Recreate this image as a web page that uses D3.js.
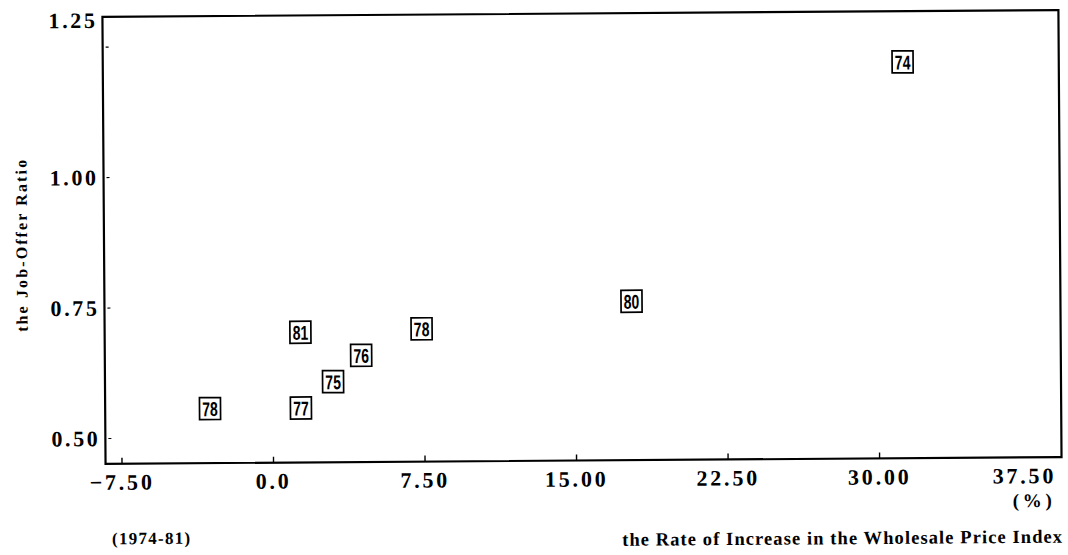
<!DOCTYPE html>
<html>
<head>
<meta charset="utf-8">
<script src="https://cdn.jsdelivr.net/npm/d3@7"></script>
<style>
  html, body { margin: 0; padding: 0; background: #fff; }
  svg { display: block; }
</style>
</head>
<body>
<script>
// Year labels and coordinates of each observation (1974-81)
const years    = ["74", "80", "81", "78", "76", "75", "78", "77"];
const wpiRate  = [31.3, 17.8, 1.4, 7.4, 4.4, 3.0, -3.1, 1.4];          // % change, wholesale price index
const jobOffer = [1.21, 0.755, 0.70, 0.705, 0.655, 0.605, 0.555, 0.555]; // job-offer ratio

const xTicks      = [-7.5, 0, 7.5, 15, 22.5, 30, 37.5];
const xTickLabels = ["\u22127.50", "0.0", "7.50", "15.00", "22.50", "30.00", "37.50"];
const yTicks      = [0.5, 0.75, 1.0, 1.25];
const yTickLabels = ["0.50", "0.75", "1.00", "1.25"];

const W = 1068, H = 555;
const serif = "'Liberation Serif', 'DejaVu Serif', serif";

const svg = d3.select("body").append("svg").attr("width", W).attr("height", H);
svg.append("rect").attr("width", W).attr("height", H).attr("fill", "#fff");

// the whole plate sits at a slight tilt
const g = svg.append("g").attr("transform", "rotate(-0.4,580,240)");

const x = d3.scaleLinear().domain([-8.29, 39.03]).range([104, 1060]);
const y = d3.scaleLinear().domain([0.4506, 1.307]).range([460.5, 13.5]);

// plot frame
g.append("rect")
  .attr("x", x.range()[0]).attr("y", y.range()[1])
  .attr("width", x.range()[1] - x.range()[0])
  .attr("height", y.range()[0] - y.range()[1])
  .attr("fill", "none").attr("stroke", "#000").attr("stroke-width", 2.2);

// x axis: short inward ticks, labels below
const xAxis = d3.axisBottom(x)
  .tickValues(xTicks).tickSizeInner(-6).tickSizeOuter(0)
  .tickFormat((d, i) => xTickLabels[i]);
const gx = g.append("g").attr("transform", `translate(0,${y.range()[0]})`).call(xAxis);
gx.select(".domain").remove();
gx.selectAll(".tick line")
  .attr("stroke", "#000").attr("stroke-width", 1.4)
  .attr("display", d => d === xTicks[xTicks.length - 1] ? "none" : null);
gx.selectAll(".tick text")
  .attr("fill", "#000")
  .attr("font-family", serif).attr("font-size", 22).attr("font-weight", "bold")
  .attr("letter-spacing", "2.8px")
  .attr("y", 26).attr("dy", 0)
  .each(function (d) {
    const len = this.getComputedTextLength();
    const over = x(d) + len / 2 - (x.range()[1] - 6);
    if (over > 0) d3.select(this).attr("x", -over);
  });

// y axis: small dashes just inside the frame; the top label sits at the frame corner
const yTop = yTicks[yTicks.length - 1];
const yAxis = d3.axisLeft(y)
  .tickValues(yTicks).tickSizeInner(-3).tickSizeOuter(0).tickPadding(9)
  .tickFormat((d, i) => yTickLabels[i]);
const gy = g.append("g").attr("transform", `translate(${x.range()[0] + 3},0)`).call(yAxis);
gy.select(".domain").remove();
gy.selectAll(".tick line").attr("stroke", "#000").attr("stroke-width", 1.2);
gy.selectAll(".tick text")
  .attr("fill", "#000")
  .attr("font-family", serif).attr("font-size", 22).attr("font-weight", "bold")
  .attr("letter-spacing", "2.6px")
  .attr("x", -8)
  .attr("dy", "0.34em")
  .attr("y", d => d === yTop ? (y.range()[1] + 3) - y(d) : 0);

// axis titles and notes
g.append("text")
  .attr("transform", "translate(27,242) rotate(-90)")
  .attr("text-anchor", "middle")
  .attr("font-family", serif).attr("font-size", 16).attr("font-weight", "bold")
  .attr("textLength", 172).attr("lengthAdjust", "spacing")
  .text("the Job-Offer Ratio");

g.append("text")
  .attr("x", 620).attr("y", 546)
  .attr("font-family", serif).attr("font-size", 18.5).attr("font-weight", "bold")
  .attr("textLength", 440).attr("lengthAdjust", "spacing")
  .text("the Rate of Increase in the Wholesale Price Index");

g.append("text")
  .attr("x", 110).attr("y", 541)
  .attr("font-family", serif).attr("font-size", 17).attr("font-weight", "bold")
  .attr("textLength", 78).attr("lengthAdjust", "spacing")
  .text("(1974-81)");

g.append("text")
  .attr("x", 1011).attr("y", 510)
  .attr("font-family", serif).attr("font-size", 19).attr("font-weight", "bold")
  .attr("textLength", 39).attr("lengthAdjust", "spacing")
  .text("(%)");

// boxed year markers
const pts = years.map((yr, i) => ({ yr, wx: wpiRate[i], jy: jobOffer[i] }));
const mk = g.append("g").selectAll("g").data(pts).join("g")
  .attr("transform", d => `translate(${x(d.wx)},${y(d.jy)})`);
mk.append("rect")
  .attr("x", -10.5).attr("y", -11).attr("width", 21).attr("height", 22)
  .attr("fill", "#fff").attr("stroke", "#000").attr("stroke-width", 1.7);
mk.append("text")
  .attr("transform", "scale(0.7,1)")
  .attr("text-anchor", "middle").attr("y", 7.5)
  .attr("font-family", "'Liberation Sans', Arial, sans-serif")
  .attr("font-size", 20).attr("font-weight", "bold")
  .attr("fill", "#000")
  .text(d => d.yr);
</script>
</body>
</html>
